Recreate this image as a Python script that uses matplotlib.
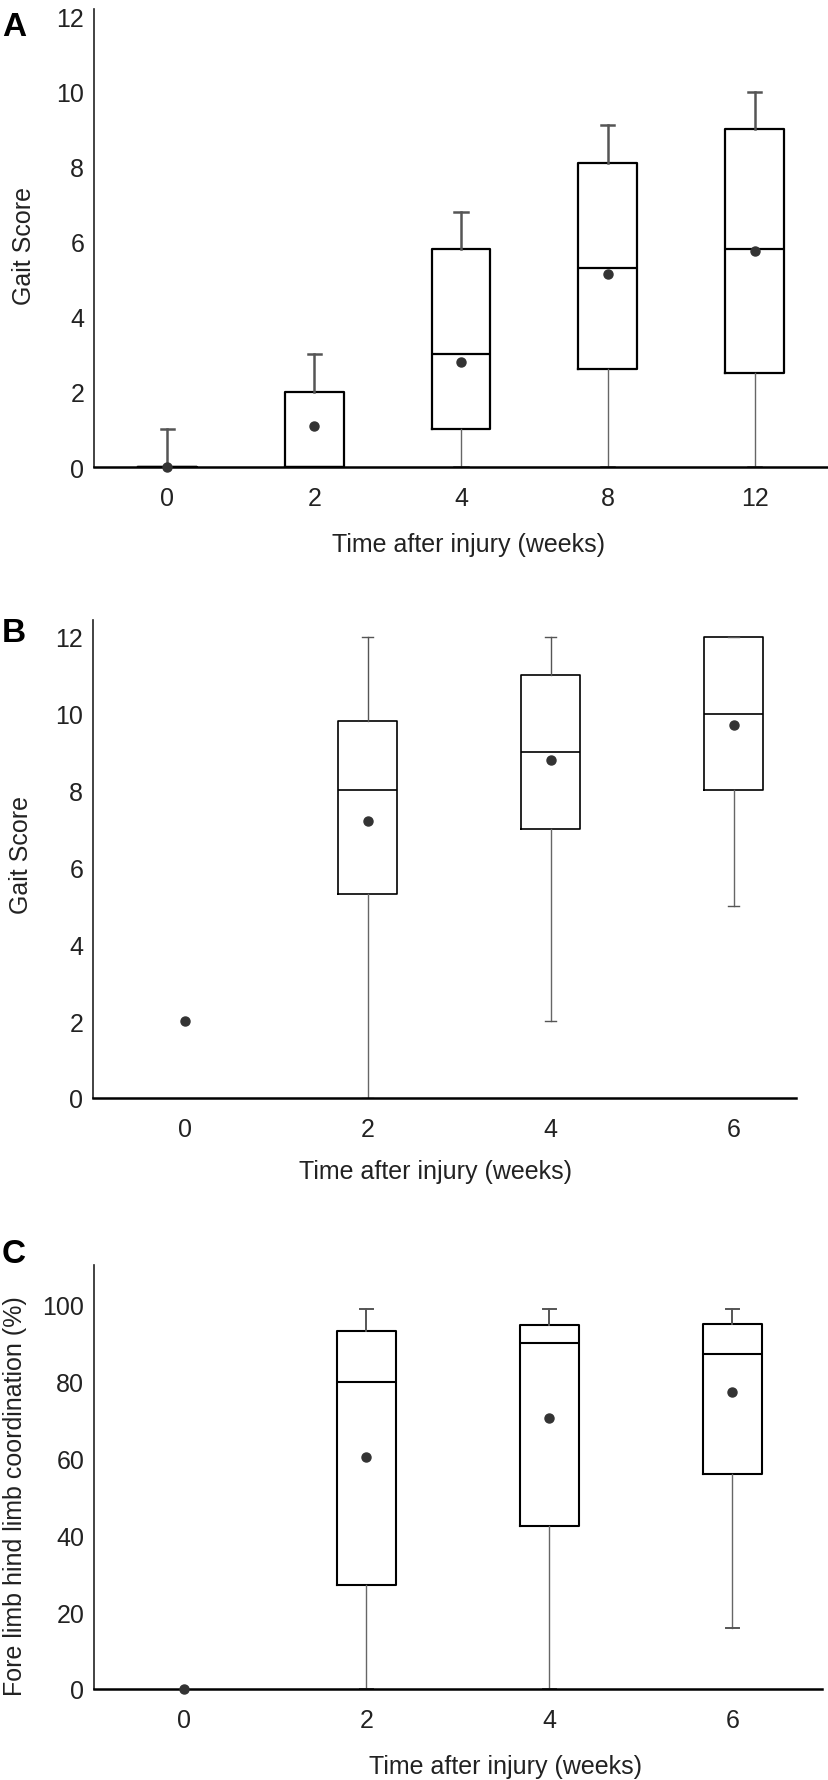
import matplotlib.pyplot as plt

plt.rcParams['font.family'] = ['Liberation Sans', 'DejaVu Sans']

# panel A: gait score, weeks 0-12
weeks_a = ['0', '2', '4', '8', '12']
a_q1 = [0, 0, 1.0, 2.6, 2.5]
a_med = [0, 0, 3.0, 5.3, 5.8]
a_q3 = [0, 2.0, 5.8, 8.1, 9.0]
a_lo = [0, 0, 0, 0, 0]
a_hi = [1.0, 3.0, 6.8, 9.1, 10.0]
a_mean = [0, 1.1, 2.8, 5.15, 5.75]

# panel B: gait score, weeks 0-6 (no box at week 0)
weeks_b = ['0', '2', '4', '6']
b_q1 = [5.3, 7.0, 8.0]
b_med = [8.0, 9.0, 10.0]
b_q3 = [9.8, 11.0, 12.0]
b_lo = [0, 2.0, 5.0]
b_hi = [12.0, 12.0, 12.0]
b_mean = [2.0, 7.2, 8.8, 9.7]

# panel C: fore limb / hind limb coordination (%)
weeks_c = ['0', '2', '4', '6']
c_q1 = [27.0, 42.5, 56.0]
c_med = [80.0, 90.0, 87.3]
c_q3 = [93.2, 94.7, 95.0]
c_lo = [0, 0, 15.8]
c_hi = [99.0, 99.0, 99.0]
c_mean = [0, 60.5, 70.5, 77.3]


def make_stats(q1, med, q3, lo, hi):
    return [dict(q1=a, med=m, q3=b, whislo=l, whishi=h, fliers=[])
            for a, m, b, l, h in zip(q1, med, q3, lo, hi)]


def draw_panel(ax, labels, stats, box_pos, means, width, cap, box_lw, up_lw):
    art = ax.bxp(stats, positions=box_pos, widths=width, showfliers=False,
                 capwidths=cap,
                 boxprops=dict(color='black', linewidth=box_lw),
                 medianprops=dict(color='black', linewidth=box_lw),
                 whiskerprops=dict(color='#666666', linewidth=1.0),
                 capprops=dict(color='#555555', linewidth=up_lw))
    # upper whiskers drawn heavier than lower ones
    for i, w in enumerate(art['whiskers']):
        if i % 2 == 1:
            w.set_color('#555555')
            w.set_linewidth(up_lw)
    ax.plot(range(len(labels)), means, 'o', color='#333333', ms=6.5,
            clip_on=False, zorder=4)
    ax.set_xticks(range(len(labels)))
    ax.set_xticklabels(labels)
    ax.spines['top'].set_visible(False)
    ax.spines['right'].set_visible(False)
    ax.spines['left'].set_linewidth(1.2)
    ax.spines['left'].set_color('#222222')
    ax.spines['bottom'].set_linewidth(1.8)
    ax.tick_params(length=0, labelsize=18, colors='#222222')
    ax.tick_params(axis='y', pad=7)
    ax.tick_params(axis='x', pad=14)


fig = plt.figure(figsize=(8.29, 17.81), dpi=100)

axA = fig.add_axes([0.1134, 0.7372, 0.8854, 0.2572])
draw_panel(axA, weeks_a, make_stats(a_q1, a_med, a_q3, a_lo, a_hi),
           list(range(5)), a_mean, 0.40, 0.09, 1.6, 1.8)
axA.set_xlim(-0.5, 4.5)
axA.set_ylim(0, 12.2)
axA.set_yticks(range(0, 13, 2))
axA.set_ylabel('Gait Score', fontsize=18, color='#222222', va='center')
axA.yaxis.set_label_coords(-0.095, 0.485)
axA.set_xlabel('Time after injury (weeks)', fontsize=18, color='#222222', va='center')
axA.xaxis.set_label_coords(0.51, -0.168)

axB = fig.add_axes([0.1122, 0.3830, 0.848, 0.2684])
draw_panel(axB, weeks_b, make_stats(b_q1, b_med, b_q3, b_lo, b_hi),
           [1, 2, 3], b_mean, 0.32, 0.06, 1.2, 1.0)
axB.set_xlim(-0.5, 3.34)
axB.set_ylim(0, 12.44)
axB.set_yticks(range(0, 13, 2))
axB.set_ylabel('Gait Score', fontsize=18, color='#222222', va='center')
axB.yaxis.set_label_coords(-0.103, 0.51)
axB.set_xlabel('Time after injury (weeks)', fontsize=18, color='#222222', va='center')
axB.xaxis.set_label_coords(0.487, -0.153)

axC = fig.add_axes([0.1134, 0.0511, 0.878, 0.2381])
draw_panel(axC, weeks_c, make_stats(c_q1, c_med, c_q3, c_lo, c_hi),
           [1, 2, 3], c_mean, 0.32, 0.07, 1.5, 1.4)
axC.set_xlim(-0.49, 3.49)
axC.set_ylim(0, 110.4)
axC.set_yticks(range(0, 101, 20))
axC.set_ylabel('Fore limb hind limb coordination (%)', fontsize=18,
               color='#222222', va='center')
axC.yaxis.set_label_coords(-0.108, 0.458)
axC.set_xlabel('Time after injury (weeks)', fontsize=18, color='#222222', va='center')
axC.xaxis.set_label_coords(0.565, -0.182)

for letter, y in [('A', 27), ('B', 633), ('C', 1255)]:
    fig.text(2 / 829, 1 - y / 1781, letter, fontsize=24, fontweight='bold',
             ha='left', va='center')

fig.savefig('out.png', dpi=100)
